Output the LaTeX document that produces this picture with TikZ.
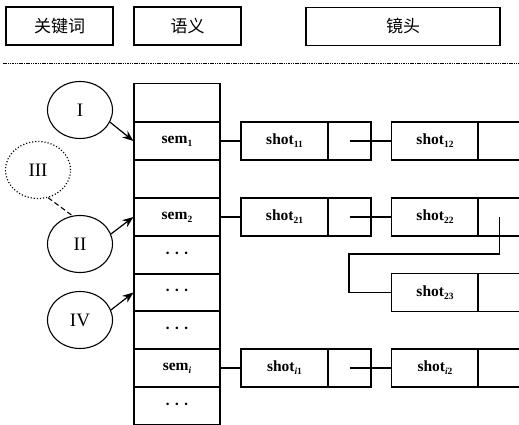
\documentclass[tikz,border=0pt]{standalone}
\usepackage{fontspec}
\setmainfont{Liberation Serif}
\newfontfamily\cjk{Noto Sans CJK SC}
\usetikzlibrary{arrows.meta,shapes.geometric,calc}
\newcommand{\lowsub}[1]{\raisebox{-0.45ex}{\fontsize{9.5}{9.5}\selectfont #1}}
\newcommand{\threedots}{·\hspace{4pt}·\hspace{4pt}·}
\tikzset{
  hdr/.style={draw,line width=1.3pt,minimum height=38pt,inner sep=0pt,font=\cjk\fontsize{17}{17}\selectfont},
  cell/.style={draw,line width=1.2pt,minimum width=86pt,minimum height=38pt,inner sep=0pt,font=\bfseries\fontsize{15.5}{15.5}\selectfont},
  shotbox/.style={draw,line width=1.2pt,minimum width=87pt,minimum height=38pt,inner sep=0pt,font=\bfseries\fontsize{15.5}{15.5}\selectfont},
  ptrbox/.style={draw,line width=1.2pt,minimum width=43pt,minimum height=38pt,inner sep=0pt},
  kw/.style={ellipse,draw,line width=1.1pt,minimum width=65pt,minimum height=57pt,inner sep=0pt,font=\fontsize{19}{19}\selectfont},
  link/.style={line width=1.1pt},
  arr/.style={line width=1.2pt,-{Stealth[length=11pt,width=8.5pt]}},
}
\begin{document}
\begin{tikzpicture}[x=1pt,y=-1pt]
\useasboundingbox (0,0) rectangle (519,425);
\clip (0,0) rectangle (519,425);
% headers
\node[hdr,minimum width=107pt] (h1) at (59.5,26) {关键词};
\node[hdr,minimum width=107pt] (h2) at (187.5,26) {语义};
\node[hdr,minimum width=194pt] (h3) at (403,26.5) {镜头};
\coordinate (dl) at (3,63);
\coordinate (dr) at (519,63);
\draw[line width=0.7pt,dash pattern=on 1.5pt off 0.8pt] (dl) -- (dr);
% semantic column
\node[cell] (c1) at (177,102.5) {};
\node[cell] (c2) at (177,141) {sem\lowsub{1}};
\node[cell] (c3) at (177,179) {};
\node[cell] (c4) at (177,217) {sem\lowsub{2}};
\node[cell] (c5) at (177,255) {\threedots};
\node[cell] (c6) at (177,292.5) {\threedots};
\node[cell] (c7) at (177,330) {\threedots};
\node[cell] (c8) at (177,368) {sem\lowsub{\textit{i}}};
\node[cell] (c9) at (177,406) {\threedots};
% keyword circles
\node[kw] (k1) at (80,110) {I};
\node[kw,dotted,line width=1.2pt] (k3) at (38,170) {III};
\node[kw] (k2) at (80,244) {II};
\node[kw] (k4) at (80,320) {IV};
\draw[arr] (k1.-22) -- (c2.west);
\draw[arr] (k2.18) -- (c4.west);
\draw[arr] (k4.18) -- (c6.west);
\draw[line width=1.1pt,dash pattern=on 5pt off 3pt] (k3.-70) -- (k2.105);
% shot row 1
\node[shotbox] (s11) at (284.5,141) {shot\lowsub{11}};
\node[ptrbox] (p11) at (349.5,141) {};
\node[shotbox] (s12) at (435,141) {shot\lowsub{12}};
\node[ptrbox] (p12) at (499.5,141) {};
% shot row 2
\node[shotbox] (s21) at (284.5,217) {shot\lowsub{21}};
\node[ptrbox] (p21) at (349.5,217) {};
\node[shotbox] (s22) at (435,217) {shot\lowsub{22}};
\node[ptrbox] (p22) at (499.5,217) {};
% shot 23
\node[shotbox] (s23) at (435,292.5) {shot\lowsub{23}};
\node[ptrbox] (p23) at (499.5,292.5) {};
% shot row i
\node[shotbox] (si1) at (284.5,368) {shot\lowsub{\textit{i}1}};
\node[ptrbox] (pi1) at (349.5,368) {};
\node[shotbox] (si2) at (435,368) {shot\lowsub{\textit{i}2}};
\node[ptrbox] (pi2) at (499.5,368) {};
% links
\draw[link] (c2.east) -- (s11.west);
\draw[link] (p11.center) -- (s12.west);
\draw[link] (c4.east) -- (s21.west);
\draw[link] (p21.center) -- (s22.west);
\coordinate (bend) at (349,254);
\draw[link] (p22.center) |- (bend) |- (s23.west);
\draw[link] (c8.east) -- (si1.west);
\draw[link] (pi1.center) -- (si2.west);
\end{tikzpicture}
\end{document}
